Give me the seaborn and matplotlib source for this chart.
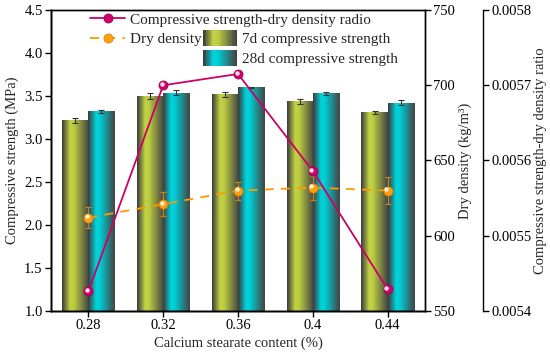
import numpy as np
import pandas as pd
import matplotlib
matplotlib.use("Agg")
import matplotlib.pyplot as plt
import seaborn as sns
from matplotlib.colors import LinearSegmentedColormap
from matplotlib.patches import Patch, Rectangle
from matplotlib.legend_handler import HandlerBase
from matplotlib.ticker import FormatStrFormatter, MultipleLocator
from matplotlib import transforms

# data
contents = ["0.28", "0.32", "0.36", "0.4", "0.44"]
strength_7d = [3.22, 3.50, 3.52, 3.44, 3.31]
strength_7d_err = [0.03, 0.04, 0.03, 0.03, 0.02]
strength_28d = [3.32, 3.54, 3.60, 3.53, 3.42]
strength_28d_err = [0.02, 0.03, 0.01, 0.02, 0.03]
dry_density = [612, 621, 630, 632, 630]
dry_density_err = [7, 8, 6, 8, 9]
ratio = [0.005426, 0.005700, 0.005715, 0.005586, 0.005429]

sns.set_style("ticks")
plt.rcParams["font.family"] = ["Liberation Serif", "DejaVu Serif"]
plt.rcParams["font.size"] = 10.5
plt.rcParams["xtick.direction"] = "out"
plt.rcParams["ytick.direction"] = "out"

DARK = "#3c3c3c"
cmap_7d = LinearSegmentedColormap.from_list("c7", [(0, DARK), (0.3, "#c2d244"), (0.45, "#bccc40"), (1, "#444444")])
cmap_28d = LinearSegmentedColormap.from_list("c28", [(0, DARK), (0.3, "#00d4dc"), (0.45, "#00ccd4"), (1, "#444444")])

df = pd.DataFrame({
    "content": contents * 2,
    "age": ["7d compressive strength"] * 5 + ["28d compressive strength"] * 5,
    "strength": strength_7d + strength_28d,
    "err": strength_7d_err + strength_28d_err,
})

fig = plt.figure(figsize=(5.5, 3.64), dpi=100)
ax = fig.add_axes([51 / 550, 1 - 311 / 364, 374 / 550, 301 / 364])

sns.barplot(data=df, x="content", y="strength", hue="age", order=contents,
            hue_order=["7d compressive strength", "28d compressive strength"],
            palette=["#c2d244", "#00d4dc"], width=0.7, errorbar=None, ax=ax,
            legend=False, linewidth=0)

YMIN, YMAX = 1.0, 4.5
# gradient fill clipped to each bar
grad = np.linspace(0, 1, 64)[np.newaxis, :]
bars = ax.patches[:10]
for i, p in enumerate(bars):
    cm = cmap_7d if i < 5 else cmap_28d
    x, y, w, h = p.get_x(), p.get_y(), p.get_width(), p.get_height()
    y0 = max(y, YMIN)
    im = ax.imshow(grad, cmap=cm, extent=[x, x + w, y0, y + h], aspect="auto",
                   zorder=p.get_zorder() + 0.1, interpolation="bilinear")
    im.set_clip_path(p)

# error bars on bars
centers = [p.get_x() + p.get_width() / 2 for p in bars]
ax.errorbar(centers, df["strength"], yerr=df["err"], fmt="none", ecolor="#333333",
            elinewidth=0.8, capsize=2.5, capthick=0.8, zorder=5)

ax.set_xlim(-0.5, 4.5)
ax.set_ylim(YMIN, YMAX)
ax.yaxis.set_major_locator(MultipleLocator(0.5))
ax.yaxis.set_major_formatter(FormatStrFormatter("%.1f"))
ax.set_xlabel("Calcium stearate content (%)", labelpad=3)
ax.set_ylabel("Compressive strength (MPa)", labelpad=4)
for s in ax.spines.values():
    s.set_linewidth(1.0)
    s.set_color("black")
ax.tick_params(length=4, width=1, colors="black", pad=2)

# dry density axis
ax2 = ax.twinx()
xs = np.arange(len(contents))
ax2.errorbar(xs, dry_density, yerr=dry_density_err, fmt="none", ecolor="#c8801a",
             elinewidth=0.9, capsize=2.5, capthick=0.9, zorder=3)
ln_dd, = ax2.plot(xs, dry_density, color="#ff9900", linestyle=(0, (5, 4)), linewidth=1.3,
                  marker="o", markersize=6.5, markerfacecolor="#ffa010",
                  markeredgecolor="#e08000", markeredgewidth=0.6, zorder=4, label="Dry density")
hl = transforms.offset_copy(ax2.transData, fig=fig, x=-1.0, y=1.0, units="points")
ax2.plot(xs, dry_density, linestyle="none", marker="o", markersize=2.2, color="#fff4d8",
         transform=hl, zorder=4.5)
ax2.set_ylim(550, 750)
ax2.yaxis.set_major_locator(MultipleLocator(50))
ax2.set_ylabel("Dry density (kg/m³)", labelpad=2)
ax2.tick_params(length=4, width=1, colors="black", pad=2)

# ratio axis
ax3 = ax.twinx()
ax3.spines["right"].set_position(("outward", 58 * 72 / 100))
ax3.spines["top"].set_visible(False)
ln_r, = ax3.plot(xs, ratio, color="#cc0066", linewidth=1.3, marker="o", markersize=6.5,
                 markerfacecolor="#d0006a", markeredgecolor="#a00050", markeredgewidth=0.6,
                 zorder=6, label="Compressive strength-dry density radio")
hl3 = transforms.offset_copy(ax3.transData, fig=fig, x=-1.0, y=1.0, units="points")
ax3.plot(xs, ratio, linestyle="none", marker="o", markersize=2.2, color="#ffe0ee",
         transform=hl3, zorder=6.5)
ax3.set_ylim(0.0054, 0.0058)
ax3.yaxis.set_major_locator(MultipleLocator(0.0001))
ax3.yaxis.set_major_formatter(FormatStrFormatter("%.4f"))
ax3.set_ylabel("Compressive strength-dry density ratio", labelpad=2)
ax3.tick_params(length=4, width=1, colors="black", pad=2)
for a in (ax2, ax3):
    for s in a.spines.values():
        s.set_linewidth(1.0)
        s.set_color("black")


class GradHandler(HandlerBase):
    def __init__(self, cmap):
        super().__init__()
        self.cmap = cmap

    def create_artists(self, legend, orig_handle, xdescent, ydescent, width, height, fontsize, trans):
        n = 40
        arts = []
        for i in range(n):
            r = Rectangle((-xdescent + i * width / n, -ydescent), width / n * 1.1, height,
                          facecolor=self.cmap(i / (n - 1)), edgecolor="none", transform=trans)
            arts.append(r)
        return arts


leg1 = ax3.legend(handles=[ln_r, ln_dd], loc="upper left", bbox_to_anchor=(90 / 550, 1 - 13 / 364),
                  bbox_transform=fig.transFigure, frameon=False, borderpad=0, borderaxespad=0,
                  handlelength=2.3, handletextpad=0.3, labelspacing=0.38, numpoints=1, fontsize=11)
ax3.add_artist(leg1)
p7 = Patch(label="7d compressive strength")
p28 = Patch(label="28d compressive strength")
ax3.legend(handles=[p7, p28], loc="upper left", bbox_to_anchor=(203 / 550, 1 - 30 / 364),
           bbox_transform=fig.transFigure, frameon=False, borderpad=0, borderaxespad=0,
           handlelength=2.2, handleheight=1.25, handletextpad=0.35, labelspacing=0.22, fontsize=11,
           handler_map={p7: GradHandler(cmap_7d), p28: GradHandler(cmap_28d)})

fig.savefig("out.png", dpi=100)
